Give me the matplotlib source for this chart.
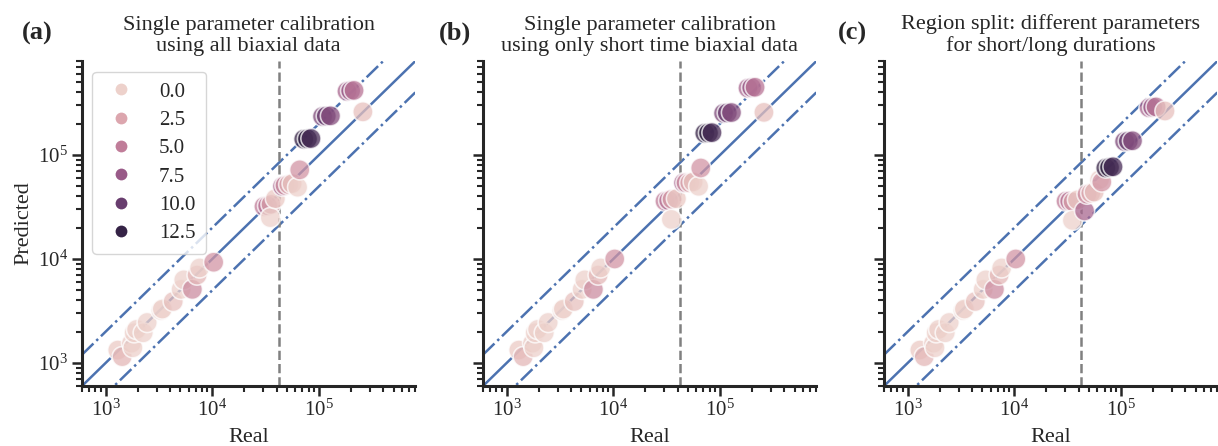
import numpy as np
import pandas as pd
import matplotlib
matplotlib.use("Agg")
import matplotlib.pyplot as plt
import seaborn as sns

# measured rupture time vs model prediction, shared hue = loading parameter
real = [1300, 1430, 1750, 1800, 1850, 1950, 2250, 2450, 3300, 3400, 4300,
        5100, 5400, 6500, 7200, 7600, 10300,
        30500, 33000, 35500, 35000, 39000, 45500, 48000, 52000, 56000, 63000,
        66000, 72000, 78000, 84000, 108000, 117000, 128000,
        183000, 198000, 213000, 258000]
hue_vals = [0.5, 1.5, 0.5, 0.0, 0.0, 0.0, 0.0, 0.0, 0.0, 0.0, 1.0,
            0.0, 0.0, 4.0, 1.5, 0.0, 3.5,
            5.0, 5.5, 3.0, 0.0, 0.5, 6.5, 4.0, 2.0, 1.0, 0.0,
            3.5, 12.5, 13.0, 11.5, 9.0, 10.0, 8.5,
            6.5, 7.5, 5.5, 1.0]
pred_all = [1330, 1150, 1550, 1400, 1950, 2100, 1950, 2450, 3200, 3300, 3900,
            5100, 6300, 5100, 7000, 8200, 9300,
            32000, 32500, 33500, 25000, 38000, 50000, 51000, 52000, 53000, 49000,
            72000, 142000, 143000, 144000, 235000, 237000, 238000,
            410000, 415000, 418000, 260000]
pred_short = [1330, 1150, 1550, 1400, 1950, 2100, 1950, 2450, 3200, 3300, 3900,
              5100, 6300, 5100, 7000, 8200, 10000,
              36000, 36500, 37500, 24000, 38000, 54000, 54000, 54000, 55000, 50000,
              75000, 162000, 163000, 164000, 252000, 254000, 256000,
              440000, 445000, 448000, 257000]
pred_split = [1330, 1150, 1550, 1400, 1950, 2100, 1950, 2450, 3200, 3300, 3900,
              5100, 6300, 5100, 7000, 8200, 10000,
              36000, 36000, 35500, 23500, 37000, 29000, 42000, 43000, 44000, 58000,
              55000, 75000, 76000, 77000, 135000, 136000, 137000,
              285000, 288000, 290000, 265000]

titles = ["Single parameter calibration\nusing all biaxial data",
          "Single parameter calibration\nusing only short time biaxial data",
          "Region split: different parameters\nfor short/long durations"]
panel_labels = ["(a)", "(b)", "(c)"]
label_x = [-0.134, -0.085, -0.095]
threshold = 42500
lims = [600, 8e5]

sns.set_theme(style="ticks")
plt.rcParams["font.family"] = ["Liberation Serif", "DejaVu Serif"]
plt.rcParams["mathtext.default"] = "regular"
plt.rcParams["axes.edgecolor"] = "#262626"

fig, axes = plt.subplots(1, 3, figsize=(12.18, 4.46), dpi=100, sharex=True, sharey=True)
fig.subplots_adjust(left=0.0673, right=0.9995, bottom=0.1345, top=0.863, wspace=0.203)

diag = np.array(lims, dtype=float)
blue = "#4c72b0"
for i, (ax, pred) in enumerate(zip(axes, [pred_all, pred_short, pred_split])):
    df = pd.DataFrame({"Real": real, "Predicted": pred, "hue": hue_vals})
    ax.plot(diag, diag, color=blue, lw=1.8, zorder=1)
    ax.plot(diag, 2 * diag, color=blue, lw=1.8, ls="-.", zorder=1)
    ax.plot(diag, diag / 2, color=blue, lw=1.8, ls="-.", zorder=1)
    ax.axvline(threshold, color="grey", ls="--", lw=1.8, zorder=1)
    sns.scatterplot(data=df, x="Real", y="Predicted", hue="hue", s=210, alpha=0.75,
                    ax=ax, legend=(i == 0), zorder=2)
    ax.set_xscale("log")
    ax.set_yscale("log")
    ax.set_xlim(lims)
    ax.set_ylim(lims)
    ax.set_xlabel("Real", fontsize=16, labelpad=5)
    ax.set_ylabel("Predicted" if i == 0 else "", fontsize=16, labelpad=3)
    ax.set_title(titles[i], fontsize=16, pad=7, linespacing=1.15)
    ax.text(label_x[i], 1.086, panel_labels[i], transform=ax.transAxes, fontsize=19,
            fontweight="bold", ha="center", va="center")
    ax.tick_params(which="major", length=7, width=1.8, labelsize=15, pad=3)
    ax.tick_params(which="minor", length=4.5, width=1.5)
    for sp in ["left", "bottom"]:
        ax.spines[sp].set_linewidth(2.2)
    sns.despine(ax=ax)
    if i == 0:
        handles, labels = ax.get_legend_handles_labels()
        for h in handles:
            h.set_alpha(1)
            if hasattr(h, "set_markersize"):
                h.set_markersize(8.5)
                h.set_markeredgewidth(0)
            else:
                h.set_sizes([72])
                h.set_edgecolor("none")
        ax.legend(handles, labels, loc="upper left", fontsize=15, labelspacing=0.42,
                  handletextpad=1.0, handlelength=1.7, borderpad=0.5)

plt.savefig("out.png", dpi=100)
